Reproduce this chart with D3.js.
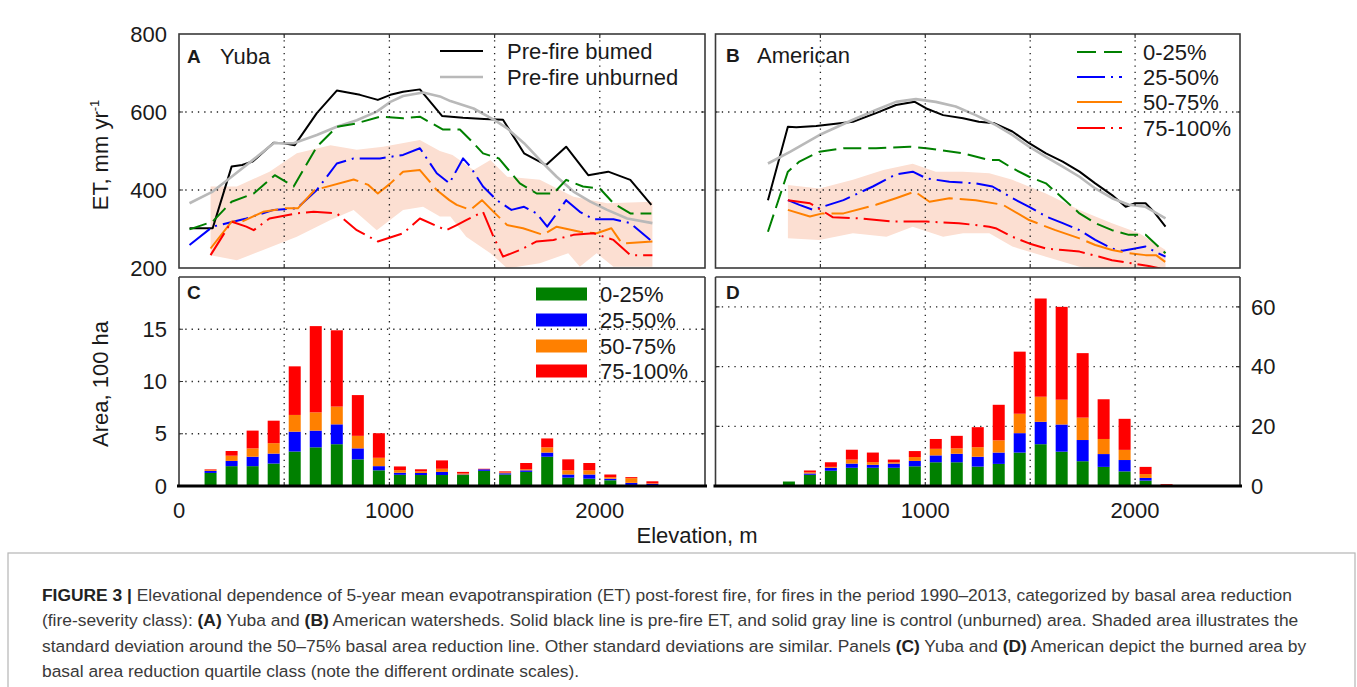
<!DOCTYPE html>
<meta charset="utf-8">
<script src="https://d3js.org/d3.v7.min.js"></script>
<style>
body { margin: 0; background: #fff; }
text { font-family: "Liberation Sans", Arial, sans-serif; fill: #1a1a1a; }
</style>
<div id="my_dataviz"></div>
<script>

// ---- data ----
var classes = ["0-25%", "25-50%", "50-75%", "75-100%"];
var elevTicks = [0, 1000, 2000];
var gridElev = [500, 1000, 1500, 2000];
var etTicks = [200, 400, 600, 800];
var areaTicksC = [0, 5, 10, 15];
var areaTicksD = [0, 20, 40, 60];

// panel A, Yuba  [elevation m, ET mm/yr]
var yubaPreBurned = [[50,302],[160,302],[250,460],[300,464],[350,473],[450,521],[500,520],[550,515],[655,597],[750,655],[860,644],[945,631],[1005,644],[1065,652],[1145,658],[1250,590],[1350,585],[1450,582],[1540,580],[1640,494],[1745,464],[1840,511],[1945,438],[2040,447],[2145,426],[2245,362]];
var yubaUnburned = [[50,366],[160,396],[250,434],[370,485],[450,520],[545,520],[655,541],[750,562],[845,579],[940,601],[1005,626],[1065,641],[1160,650],[1240,640],[1290,628],[1400,609],[1500,579],[1560,558],[1640,520],[1715,477],[1795,434],[1875,396],[1955,370],[2035,349],[2130,327],[2250,315]];
var yuba0_25 = [[50,299],[160,319],[250,370],[355,391],[455,438],[545,409],[655,511],[750,562],[845,571],[955,588],[1065,584],[1145,588],[1255,555],[1335,555],[1400,520],[1445,494],[1520,481],[1620,417],[1700,391],[1780,391],[1840,426],[1920,409],[2000,404],[2065,366],[2145,340],[2245,340]];
var yuba25_50 = [[50,259],[160,306],[320,327],[450,349],[560,353],[655,400],[750,468],[830,481],[955,481],[1065,490],[1145,507],[1225,443],[1285,417],[1350,481],[1385,460],[1415,434],[1445,409],[1510,374],[1580,349],[1640,357],[1700,340],[1750,306],[1790,336],[1840,374],[1905,344],[1970,325],[2065,325],[2145,315],[2240,272]];
var yuba50_75 = [[150,250],[250,319],[300,319],[400,344],[505,353],[565,353],[645,400],[830,427],[900,413],[945,391],[1005,417],[1065,447],[1145,451],[1225,400],[1285,374],[1320,362],[1385,349],[1440,374],[1495,344],[1560,310],[1635,302],[1730,285],[1795,306],[1905,293],[1985,289],[2055,302],[2105,263],[2250,268]];
var yuba75_100 = [[150,233],[250,319],[320,306],[355,297],[430,327],[560,340],[640,344],[750,340],[845,297],[945,268],[1065,289],[1145,327],[1270,297],[1320,310],[1365,323],[1445,344],[1495,280],[1540,229],[1620,246],[1700,268],[1780,272],[1875,285],[1970,289],[2065,272],[2145,233],[2250,233]];
var yubaSdHigh = [[150,409],[275,409],[430,447],[560,494],[720,515],[845,503],[970,511],[1145,528],[1240,500],[1300,490],[1400,451],[1480,477],[1560,434],[1715,426],[1875,383],[2035,366],[2250,370]];
var yubaSdLow = [[150,233],[275,220],[400,246],[560,280],[720,323],[830,349],[940,297],[1065,349],[1160,357],[1240,332],[1290,332],[1365,280],[1480,238],[1560,199],[1715,212],[1850,238],[1905,203],[1985,238],[2065,203],[2250,203]];

// panel B, American
var amPreBurned = [[250,374],[345,562],[385,561],[480,564],[655,575],[765,597],[860,618],[950,626],[1005,609],[1085,592],[1180,584],[1255,575],[1330,571],[1415,550],[1495,520],[1575,494],[1655,473],[1735,447],[1810,417],[1890,387],[1955,357],[2000,366],[2050,366],[2090,344],[2145,306]];
var amUnburned = [[250,468],[355,498],[495,541],[655,580],[765,605],[860,626],[955,633],[1050,626],[1145,614],[1240,592],[1305,575],[1335,567],[1415,541],[1495,511],[1575,485],[1655,460],[1735,434],[1810,404],[1890,379],[1970,362],[2050,357],[2145,327]];
var am0_25 = [[250,293],[345,447],[400,473],[495,498],[610,507],[765,507],[925,511],[1005,507],[1180,494],[1305,477],[1350,477],[1415,456],[1495,434],[1575,417],[1655,379],[1735,340],[1810,315],[1890,297],[1970,285],[2050,285],[2095,263],[2145,238]];
var am25_50 = [[345,374],[400,362],[465,349],[610,374],[750,409],[860,440],[940,447],[1005,430],[1115,421],[1240,417],[1320,409],[1415,379],[1495,357],[1575,332],[1655,315],[1735,297],[1810,272],[1890,250],[1940,244],[2000,250],[2050,255],[2095,242],[2145,229]];
var am50_75 = [[345,349],[450,332],[510,340],[610,340],[765,362],[860,379],[950,396],[1020,370],[1115,379],[1240,374],[1370,362],[1495,323],[1620,297],[1735,276],[1810,259],[1890,246],[1970,238],[2050,233],[2100,233],[2145,215]];
var am75_100 = [[345,374],[450,366],[560,330],[690,327],[845,319],[1005,319],[1160,315],[1305,306],[1335,302],[1415,280],[1495,263],[1575,250],[1655,246],[1735,242],[1830,229],[1890,220],[1985,212],[2065,205],[2120,199]];
var amSdHigh = [[345,413],[495,404],[655,426],[800,451],[940,467],[1050,447],[1180,447],[1305,443],[1415,426],[1575,391],[1735,349],[1890,315],[2020,289],[2145,246]];
var amSdLow = [[345,276],[495,272],[655,289],[815,280],[940,306],[1085,280],[1180,289],[1305,289],[1415,255],[1575,229],[1735,203],[1890,199],[2145,195]];

// panel C, Yuba burned area (100 ha)
var yubaBins = [150,250,350,450,550,650,750,850,950,1050,1150,1250,1350,1450,1550,1650,1750,1850,1950,2050,2150,2250];
var yubaArea0_25 = [1.25,1.9,1.9,2.15,3.3,3.7,4.0,2.55,1.5,1.07,1.05,1.05,1.05,1.45,1.1,1.35,2.8,0.8,0.7,0.55,0.1,0.05];
var yubaArea25_50 = [0.2,0.5,0.9,0.95,1.9,1.6,1.9,1.05,0.4,0.2,0.2,0.3,0.05,0.15,0.12,0.15,0.4,0.3,0.4,0.15,0.2,0.15];
var yubaArea50_75 = [0.1,0.5,0.8,1.0,1.6,1.75,1.7,1.2,0.8,0.25,0.15,0.3,0.1,0.0,0.08,0.1,0.5,0.4,0.4,0.15,0.45,0.05];
var yubaArea75_100 = [0.05,0.45,1.7,2.15,4.65,8.25,7.3,3.9,2.35,0.35,0.2,0.8,0.15,0.05,0.1,0.6,0.85,1.05,0.7,0.25,0.1,0.2];

// panel D, American burned area (100 ha)
var amBins = [350,450,550,650,750,850,950,1050,1150,1250,1350,1450,1550,1650,1750,1850,1950,2050,2150];
var amArea0_25 = [1.5,3.75,5.1,6.1,6.1,6.1,6.6,7.95,7.95,6.5,7.4,11.2,14.0,11.5,8.3,6.4,4.9,1.8,0];
var amArea25_50 = [0,0.45,1.0,1.4,1.0,1.4,1.8,2.3,2.85,3.3,3.8,6.5,7.5,9.1,7.1,4.3,3.8,0.9,0];
var amArea50_75 = [0,0.4,0.3,1.35,0.9,0.45,1.3,2.2,1.8,3.2,4.1,6.5,8.4,8.3,7.5,5.05,3.4,1.3,0.1];
var amArea75_100 = [0,0.6,1.55,3.3,3.2,0.9,2.0,3.3,4.2,6.7,11.9,20.8,32.9,31.1,21.6,13.3,10.4,2.4,0.5];

// ---- drawing ----
var W = 1357, H = 687;
var svg = d3.select("#my_dataviz").append("svg")
  .attr("width", W).attr("height", H)
  .style("display", "block");
svg.append("rect").attr("width", W).attr("height", H).attr("fill", "#fff");

var xA = d3.scaleLinear().domain([0, 2500]).range([179, 705]);
var xB = d3.scaleLinear().domain([0, 2500]).range([715.5, 1240]);
var yET = d3.scaleLinear().domain([200, 800]).range([268, 34]);
var yC = d3.scaleLinear().domain([0, 20]).range([486, 277]);
var yD = d3.scaleLinear().domain([0, 70]).range([486, 277]);

var barColors = ["#008000", "#0000ff", "#ff8000", "#ff0000"];
var lineStyles = [
  {color: "#000000", width: 2,   dash: null},
  {color: "#b9b9b9", width: 2.6, dash: null},
  {color: "#008000", width: 2,   dash: "18,7"},
  {color: "#0000ff", width: 2,   dash: "26,6,2,6"},
  {color: "#ff8000", width: 2,   dash: "38,7"},
  {color: "#ff0000", width: 2,   dash: "26,6,2,6"}
];

function grid(g, x, y, yTicks) {
  var x0 = x.range()[0], x1 = x.range()[1];
  var yTop = y.range()[1], yBot = y.range()[0];
  g.selectAll(null).data(gridElev).join("line")
    .attr("x1", d => x(d)).attr("x2", d => x(d))
    .attr("y1", yTop).attr("y2", yBot)
    .attr("stroke", "#222").attr("stroke-width", 1.3)
    .attr("stroke-dasharray", "1.3,5");
  g.selectAll(null).data(yTicks).join("line")
    .attr("x1", x0).attr("x2", x1)
    .attr("y1", d => y(d)).attr("y2", d => y(d))
    .attr("stroke", "#222").attr("stroke-width", 1.3)
    .attr("stroke-dasharray", "1.3,5");
  // small inward ticks
  g.selectAll(null).data(gridElev).join("path")
    .attr("d", d => "M" + x(d) + "," + yTop + "v4M" + x(d) + "," + yBot + "v-4")
    .attr("stroke", "#333").attr("stroke-width", 1.2);
  g.selectAll(null).data(yTicks).join("path")
    .attr("d", d => "M" + x0 + "," + y(d) + "h4M" + x1 + "," + y(d) + "h-4")
    .attr("stroke", "#333").attr("stroke-width", 1.2);
}

function frame(g, x, y) {
  var x0 = x.range()[0], x1 = x.range()[1];
  g.append("rect")
    .attr("x", x0).attr("y", y.range()[1])
    .attr("width", x1 - x0).attr("height", y.range()[0] - y.range()[1])
    .attr("fill", "none").attr("stroke", "#3a3a3a").attr("stroke-width", 1.6);
}

function linePanel(x, series, sdHigh, sdLow, id) {
  var g = svg.append("g");
  var x0 = x.range()[0], x1 = x.range()[1];
  svg.append("clipPath").attr("id", id).append("rect")
    .attr("x", x0).attr("y", yET(800))
    .attr("width", x1 - x0).attr("height", yET(200) - yET(800));
  var plot = g.append("g").attr("clip-path", "url(#" + id + ")");

  var pts = sdHigh.concat(sdLow.slice().reverse());
  plot.append("path")
    .attr("d", d3.line().x(d => x(d[0])).y(d => yET(d[1]))(pts) + "Z")
    .attr("fill", "#fcdfd2");

  grid(g, x, yET, [400, 600]);

  var line = d3.line().x(d => x(d[0])).y(d => yET(d[1]));
  plot.selectAll(null).data(series).join("path")
    .attr("d", d => line(d))
    .attr("fill", "none")
    .attr("stroke", (d, i) => lineStyles[i].color)
    .attr("stroke-width", (d, i) => lineStyles[i].width)
    .attr("stroke-dasharray", (d, i) => lineStyles[i].dash)
    .attr("stroke-linejoin", "round");
  frame(g, x, yET);
  return g;
}

function barPanel(x, y, bins, cols, yTicks) {
  var g = svg.append("g");
  grid(g, x, y, yTicks.filter(d => d > 0));
  var rows = bins.map((b, i) => {
    var r = {elev: b};
    classes.forEach((c, k) => { r[c] = cols[k][i]; });
    return r;
  });
  var stacked = d3.stack().keys(classes)(rows);
  var bw = 12;
  g.selectAll(null).data(stacked).join("g")
    .attr("fill", (d, i) => barColors[i])
    .selectAll("rect").data(d => d).join("rect")
      .attr("x", d => x(d.data.elev) - bw / 2)
      .attr("width", bw)
      .attr("y", d => y(d[1]))
      .attr("height", d => Math.max(0, y(d[0]) - y(d[1])));
  var x0 = x.range()[0], x1 = x.range()[1];
  g.append("path")
    .attr("d", "M" + x0 + "," + y.range()[1] + "V" + y.range()[0] + "M" + x1 + "," + y.range()[1] + "V" + y.range()[0] + "M" + x0 + "," + y.range()[1] + "H" + x1)
    .attr("fill", "none").attr("stroke", "#3a3a3a").attr("stroke-width", 1.6);
  g.append("line")
    .attr("x1", x0 - 2).attr("x2", x1 + 2)
    .attr("y1", y(0)).attr("y2", y(0))
    .attr("stroke", "#000").attr("stroke-width", 3);
  return g;
}

var gA = linePanel(xA, [yubaPreBurned, yubaUnburned, yuba0_25, yuba25_50, yuba50_75, yuba75_100], yubaSdHigh, yubaSdLow, "clipA");
var gB = linePanel(xB, [amPreBurned, amUnburned, am0_25, am25_50, am50_75, am75_100], amSdHigh, amSdLow, "clipB");
var gC = barPanel(xA, yC, yubaBins, [yubaArea0_25, yubaArea25_50, yubaArea50_75, yubaArea75_100], areaTicksC);
var gD = barPanel(xB, yD, amBins, [amArea0_25, amArea25_50, amArea50_75, amArea75_100], areaTicksD);

var fs = 22;

// axis tick labels
svg.selectAll(null).data(etTicks).join("text")
  .attr("x", 167).attr("y", d => yET(d)).attr("dy", "0.35em")
  .attr("text-anchor", "end").style("font-size", fs + "px")
  .text(d => d);
svg.selectAll(null).data(areaTicksC).join("text")
  .attr("x", 167).attr("y", d => yC(d)).attr("dy", "0.35em")
  .attr("text-anchor", "end").style("font-size", fs + "px")
  .text(d => d);
svg.selectAll(null).data(areaTicksD).join("text")
  .attr("x", 1251).attr("y", d => yD(d)).attr("dy", "0.35em")
  .attr("text-anchor", "start").style("font-size", fs + "px")
  .text(d => d);
svg.selectAll(null).data(elevTicks).join("text")
  .attr("x", d => xA(d)).attr("y", 510).attr("dy", "0.35em")
  .attr("text-anchor", "middle").style("font-size", fs + "px")
  .text(d => d);
svg.selectAll(null).data(elevTicks.filter(d => d > 0)).join("text")
  .attr("x", d => xB(d)).attr("y", 510).attr("dy", "0.35em")
  .attr("text-anchor", "middle").style("font-size", fs + "px")
  .text(d => d);

// axis titles
svg.append("text")
  .attr("x", 697).attr("y", 535).attr("dy", "0.35em")
  .attr("text-anchor", "middle").style("font-size", fs + "px")
  .text("Elevation,  m");
var etLab = svg.append("text")
  .attr("transform", "translate(108,155) rotate(-90)")
  .attr("text-anchor", "middle").style("font-size", fs + "px");
etLab.append("tspan").text("ET,  mm  yr");
etLab.append("tspan").attr("dy", -9).style("font-size", "13px").text("-1");
svg.append("text")
  .attr("transform", "translate(108,384) rotate(-90)")
  .attr("text-anchor", "middle").style("font-size", fs + "px")
  .text("Area,  100  ha");

// panel letters and names
var letters = [
  {t: "A", x: 187, y: 56, name: "Yuba", nx: 220},
  {t: "B", x: 726, y: 55, name: "American", nx: 757},
  {t: "C", x: 187, y: 292, name: "", nx: 0},
  {t: "D", x: 726, y: 292, name: "", nx: 0}
];
letters.forEach(function(l) {
  svg.append("text").attr("x", l.x).attr("y", l.y).attr("dy", "0.35em")
    .style("font-size", "19px").style("font-weight", "bold").text(l.t);
  if (l.name) svg.append("text").attr("x", l.nx).attr("y", l.y).attr("dy", "0.35em")
    .style("font-size", fs + "px").text(l.name);
});

// legend A (pre-fire lines)
var legA = [["Pre-fire bumed", 0, 51], ["Pre-fire unburned", 1, 77]];
legA.forEach(function(d) {
  var s = lineStyles[d[1]];
  svg.append("line").attr("x1", 440).attr("x2", 483).attr("y1", d[2]).attr("y2", d[2])
    .attr("stroke", s.color).attr("stroke-width", s.width);
  svg.append("text").attr("x", 507).attr("y", d[2]).attr("dy", "0.35em")
    .style("font-size", fs + "px").text(d[0]);
});

// legend B (severity lines)
var legBy = [52, 77, 102, 128];
var legBdash = ["19,8", "28,6,2,6", null, "28,6,2,6"];
classes.forEach(function(c, i) {
  var s = lineStyles[i + 2];
  svg.append("line").attr("x1", 1077).attr("x2", 1122).attr("y1", legBy[i]).attr("y2", legBy[i])
    .attr("stroke", s.color).attr("stroke-width", s.width)
    .attr("stroke-dasharray", legBdash[i]);
  svg.append("text").attr("x", 1143).attr("y", legBy[i]).attr("dy", "0.35em")
    .style("font-size", fs + "px").text(c);
});

// legend C (bars)
var legCy = [294, 320, 346, 371];
classes.forEach(function(c, i) {
  svg.append("rect").attr("x", 536).attr("y", legCy[i] - 6.5).attr("width", 51).attr("height", 13)
    .attr("fill", barColors[i]);
  svg.append("text").attr("x", 600).attr("y", legCy[i]).attr("dy", "0.35em")
    .style("font-size", fs + "px").text(c);
});

// caption
svg.append("rect").attr("x", 8).attr("y", 553).attr("width", 1347).attr("height", 150)
  .attr("fill", "none").attr("stroke", "#b5b5b5").attr("stroke-width", 1.2);
var caption = [
  [["FIGURE 3 | ", true], ["Elevational dependence of 5-year mean evapotranspiration (ET) post-forest fire, for fires in the period 1990\u20132013, categorized by basal area reduction", false]],
  [["(fire-severity class): ", false], ["(A)", true], [" Yuba and ", false], ["(B)", true], [" American watersheds. Solid black line is pre-fire ET, and solid gray line is control (unburned) area. Shaded area illustrates the", false]],
  [["standard deviation around the 50\u201375% basal area reduction line. Other standard deviations are similar. Panels ", false], ["(C)", true], [" Yuba and ", false], ["(D)", true], [" American depict the burned area by", false]],
  [["basal area reduction quartile class (note the different ordinate scales).", false]]
];
var capY = [601, 626, 652, 677];
caption.forEach(function(line, i) {
  var t = svg.append("text").attr("x", 42).attr("y", capY[i])
    .style("font-size", "17.4px").style("fill", "#3a3a3a");
  line.forEach(function(seg) {
    t.append("tspan").style("font-weight", seg[1] ? "bold" : "normal")
      .style("fill", seg[1] ? "#222" : "#3a3a3a")
      .attr("xml:space", "preserve").text(seg[0]);
  });
});

</script>
